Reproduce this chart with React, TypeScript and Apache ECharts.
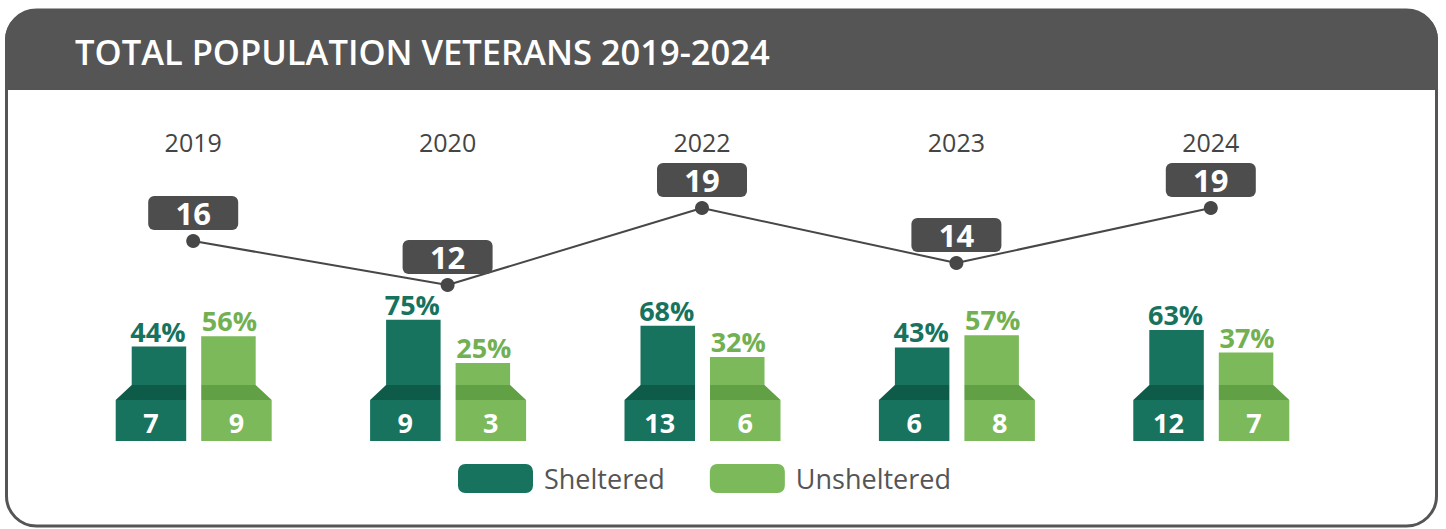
import React, { useEffect, useRef } from "react";
import * as echarts from "echarts";

const years = ["2019", "2020", "2022", "2023", "2024"];
const totals = [16, 12, 19, 14, 19];
const shelteredPct = [44, 75, 68, 43, 63];
const unshelteredPct = [56, 25, 32, 57, 37];
const shelteredCount = [7, 9, 13, 6, 12];
const unshelteredCount = [9, 3, 6, 8, 7];

const FONT = '"Open Sans", "Noto Sans", sans-serif';
const SH_MAIN = "#17735e";
const SH_DARK = "#0f5b4a";
const UN_MAIN = "#7bb95b";
const UN_DARK = "#62a046";
const Y_MIN = -65;

function makeRender(side: number, main: string, dark: string, labelColor: string) {
  return (params: any, api: any) => {
    const idx = api.value(0);
    const pct = api.value(1);
    const cnt = api.value(2);
    const topPt = api.coord([idx, pct]);
    const basePt = api.coord([idx, Y_MIN]);
    const cx = topPt[0] + 0.5;
    const top = topPt[1];
    const base = basePt[1];
    const inner = cx + side * 7.5;
    const upperOuter = cx + side * 62;
    const outer = cx + side * 78;
    const bevelTop = base - 56;
    const lowerTop = base - 41;
    return {
      type: "group",
      children: [
        {
          type: "rect",
          shape: { x: Math.min(inner, upperOuter), y: top, width: Math.abs(upperOuter - inner), height: bevelTop - top },
          style: { fill: main },
        },
        {
          type: "polygon",
          shape: { points: [[upperOuter, bevelTop], [inner, bevelTop], [inner, lowerTop], [outer, lowerTop]] },
          style: { fill: dark },
        },
        {
          type: "rect",
          shape: { x: Math.min(inner, outer), y: lowerTop, width: Math.abs(outer - inner), height: base - lowerTop },
          style: { fill: main },
        },
        {
          type: "text",
          style: {
            text: pct + "%",
            x: (inner + upperOuter) / 2 + side * 1,
            y: top - 2,
            align: "center",
            verticalAlign: "bottom",
            fill: labelColor,
            fontSize: 27,
            fontWeight: "bold",
            fontFamily: FONT,
          },
        },
        {
          type: "text",
          style: {
            text: String(cnt),
            x: (inner + outer) / 2,
            y: base - 19,
            align: "center",
            verticalAlign: "middle",
            fill: "#ffffff",
            fontSize: 27,
            fontWeight: "bold",
            fontFamily: FONT,
          },
        },
      ],
    };
  };
}

export default function App() {
  const ref = useRef<HTMLDivElement>(null);
  useEffect(() => {
    if (!ref.current) return;
    const chart = echarts.init(ref.current, null, { renderer: "svg" });
    const shData = years.map((_, i) => [i, shelteredPct[i], shelteredCount[i]]);
    const unData = years.map((_, i) => [i, unshelteredPct[i], unshelteredCount[i]]);
    chart.setOption({
      animation: false,
      backgroundColor: "#ffffff",
      textStyle: { fontFamily: FONT },
      graphic: [
        {
          type: "rect",
          z: -10,
          shape: { x: 6.5, y: 10, width: 1430, height: 516, r: 30 },
          style: { fill: "#ffffff", stroke: "#555555", lineWidth: 3 },
        },
        {
          type: "rect",
          z: -9,
          shape: { x: 5, y: 10, width: 1433, height: 80, r: [30, 30, 0, 0] },
          style: { fill: "#555555" },
        },
        {
          type: "text",
          z: -8,
          style: {
            text: "TOTAL POPULATION VETERANS 2019-2024",
            x: 75,
            y: 51,
            verticalAlign: "middle",
            fill: "#ffffff",
            fontSize: 34.5,
            fontWeight: 600,
            fontFamily: FONT,
          },
        },
      ],
      legend: {
        left: 458,
        top: 464,
        padding: 0,
        icon: "roundRect",
        itemWidth: 75,
        itemHeight: 29,
        itemGap: 45,
        textStyle: { fontSize: 27, color: "#555555", fontFamily: FONT, padding: [0, 0, 0, 6] },
        data: [
          { name: "Sheltered", itemStyle: { color: SH_MAIN } },
          { name: "Unsheltered", itemStyle: { color: UN_MAIN } },
        ],
      },
      grid: [
        { left: 66, right: 108, top: 298, bottom: 88, containLabel: false },
        { left: 66, right: 108, top: 197, height: 110, containLabel: false },
      ],
      xAxis: [
        {
          type: "category",
          gridIndex: 0,
          data: years,
          axisLine: { show: false },
          axisTick: { show: false },
          axisLabel: { show: false },
          splitLine: { show: false },
        },
        {
          type: "category",
          gridIndex: 1,
          position: "top",
          data: years,
          axisLine: { show: false },
          axisTick: { show: false },
          axisLabel: { show: true, margin: 43, fontSize: 25, color: "#444444", fontFamily: FONT },
          splitLine: { show: false },
        },
      ],
      yAxis: [
        { type: "value", gridIndex: 0, min: Y_MIN, max: 100, show: false },
        { type: "value", gridIndex: 1, min: 10, max: 20, show: false },
      ],
      series: [
        {
          type: "custom",
          name: "Sheltered",
          xAxisIndex: 0,
          yAxisIndex: 0,
          itemStyle: { color: SH_MAIN },
          encode: { x: 0, y: 1 },
          data: shData,
          renderItem: makeRender(-1, SH_MAIN, SH_DARK, SH_MAIN),
        },
        {
          type: "custom",
          name: "Unsheltered",
          xAxisIndex: 0,
          yAxisIndex: 0,
          itemStyle: { color: UN_MAIN },
          encode: { x: 0, y: 1 },
          data: unData,
          renderItem: makeRender(1, UN_MAIN, UN_DARK, "#72b052"),
        },
        {
          type: "line",
          name: "Total",
          xAxisIndex: 1,
          yAxisIndex: 1,
          data: totals,
          symbol: "circle",
          symbolSize: 14,
          itemStyle: { color: "#474747" },
          lineStyle: { color: "#474747", width: 2 },
          label: {
            show: true,
            position: "top",
            distance: 4,
            backgroundColor: "#4d4d4d",
            borderRadius: 6,
            width: 90,
            height: 34,
            lineHeight: 34,
            align: "center",
            color: "#ffffff",
            fontSize: 31,
            fontWeight: "bold",
            fontFamily: FONT,
          },
        },
      ],
    });
    return () => chart.dispose();
  }, []);
  return (
    <div
      ref={ref}
      style={{ position: "fixed", left: 0, top: 0, width: 1446, height: 529 }}
    />
  );
}
